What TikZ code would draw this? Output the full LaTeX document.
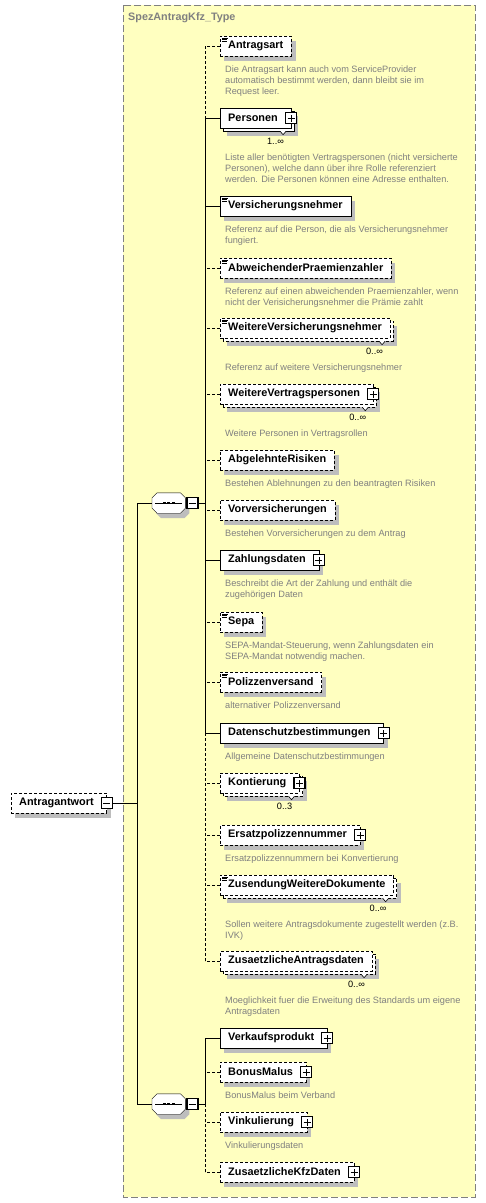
\documentclass[tikz,border=0pt]{standalone}
\usepackage{fontspec}
\setmainfont{Liberation Sans}
\usetikzlibrary{positioning}
\definecolor{typefill}{HTML}{FFFFC0}
\definecolor{typedraw}{HTML}{808080}
\definecolor{doctext}{HTML}{808080}
\definecolor{shadegray}{HTML}{BDBDBD}
\pgfdeclarelayer{bg}\pgfdeclarelayer{shade}\pgfdeclarelayer{back}
\pgfsetlayers{bg,shade,back,main}
\tikzset{
  elem/.style={draw,fill=white,anchor=west,minimum height=20pt,inner xsep=8pt,inner ysep=0pt,font=\fontsize{10.9}{13}\selectfont\bfseries},
  opt/.style={dash pattern=on 3pt off 2pt},
  kids/.style={execute at end node={\hspace*{5pt}}},
  doc/.style={inner sep=0pt,align=left,text=doctext,font=\fontsize{9.2}{11}\selectfont},
  mult/.style={inner sep=0pt,font=\fontsize{9.2}{11}\selectfont},
  pm/.style={draw,fill=white,minimum size=11pt,inner sep=0pt,line width=1.1pt},
  plusbox/.style={pm,path picture={\draw[black,line width=0.7pt] ([xshift=-3.5pt]path picture bounding box.center) -- ++(7pt,0pt) ([yshift=-3.5pt]path picture bounding box.center) -- ++(0pt,7pt);}},
  minusbox/.style={pm,path picture={\draw[black,line width=0.7pt] ([xshift=-3.5pt]path picture bounding box.center) -- ++(7pt,0pt);}},
  seqbox/.style={minimum width=33pt,minimum height=20pt,inner sep=0pt,anchor=west}
}
\newcommand\octpath[3]{([shift={(#2,#3)},xshift=5pt]#1.north west) -- ([shift={(#2,#3)},xshift=-5pt]#1.north east) -- ([shift={(#2,#3)},yshift=-5pt]#1.north east) -- ([shift={(#2,#3)},yshift=5pt]#1.south east) -- ([shift={(#2,#3)},xshift=-5pt]#1.south east) -- ([shift={(#2,#3)},xshift=5pt]#1.south west) -- ([shift={(#2,#3)},yshift=5pt]#1.south west) -- ([shift={(#2,#3)},yshift=-5pt]#1.north west) -- cycle}
\begin{document}
\begin{tikzpicture}[x=1pt,y=-1pt,line width=0.9pt]
\useasboundingbox (0,0) rectangle (486,1203);
\begin{pgfonlayer}{bg}
\draw[typedraw,fill=typefill,dash pattern=on 7pt off 3pt] (123,5) rectangle (475,1197);
\end{pgfonlayer}
\node[anchor=west,inner sep=0pt,text=typedraw,font=\fontsize{10.8}{13}\selectfont\bfseries] (typename) at (128,18) {SpezAntragKfz\_Type};

\node[elem,opt,kids] (root) at (11,803) {Antragantwort};
\node[minusbox] (rootm) at (root.east) {};
\node[seqbox] (seqa) at (152,503) {};
\node[minusbox,right=1pt of seqa] (seqam) {};
\node[seqbox] (seqb) at (152,1104) {};
\node[minusbox,right=1pt of seqb] (seqbm) {};

\node[elem,opt] (antragsart) at (220,46) {Antragsart};
\node[elem,kids] (personen) at (220,118) {Personen};
\node[elem] (vnehmer) at (220,206) {Versicherungsnehmer};
\node[elem,opt] (abwpz) at (220,268) {AbweichenderPraemienzahler};
\node[elem,opt] (weitvn) at (220,328) {WeitereVersicherungsnehmer};
\node[elem,opt,kids] (weitvp) at (220,394) {WeitereVertragspersonen};
\node[elem,opt] (ablrisk) at (220,460) {AbgelehnteRisiken};
\node[elem,opt] (vorvers) at (220,510) {Vorversicherungen};
\node[elem,kids] (zahlung) at (220,560) {Zahlungsdaten};
\node[elem,opt] (sepa) at (220,622) {Sepa};
\node[elem,opt] (polversand) at (220,682) {Polizzenversand};
\node[elem,kids] (datenschutz) at (220,733) {Datenschutzbestimmungen};
\node[elem,opt,kids] (kontierung) at (220,783) {Kontierung};
\node[elem,opt,kids] (ersatzpn) at (220,835) {Ersatzpolizzennummer};
\node[elem,opt] (zusdok) at (220,885) {ZusendungWeitereDokumente};
\node[elem,opt] (zusantrag) at (220,961) {ZusaetzlicheAntragsdaten};
\node[elem,kids] (vkprodukt) at (220,1038) {Verkaufsprodukt};
\node[elem,opt,kids] (bonusmalus) at (220,1072) {BonusMalus};
\node[elem,opt,kids] (vinkul) at (220,1122) {Vinkulierung};
\node[elem,opt,kids] (kfzdaten) at (220,1172) {ZusaetzlicheKfzDaten};

\foreach \s in {seqa,seqb} {
  \draw[fill=white] \octpath{\s}{0pt}{0pt};
  \draw[line width=0.8pt] ([xshift=3pt]\s.west) -- ([xshift=-3pt]\s.east);
  \foreach \d in {-4.5,0,4.5} \fill ([xshift=\d pt]\s.center) +(-1.4pt,-1.4pt) rectangle +(1.4pt,1.4pt);
}
\begin{pgfonlayer}{shade}
\foreach \n in {root,antragsart,vnehmer,abwpz,ablrisk,vorvers,zahlung,sepa,polversand,datenschutz,ersatzpn,vkprodukt,bonusmalus,vinkul,kfzdaten}
  \fill[shadegray] ([shift={(4pt,-5pt)}]\n.south west) rectangle ([shift={(4pt,-5pt)}]\n.north east);
\foreach \n in {personen,weitvn,weitvp,kontierung,zusdok,zusantrag}
  \fill[shadegray] ([shift={(7pt,-8pt)}]\n.south west) rectangle ([shift={(7pt,-8pt)}]\n.north east);
\foreach \s in {seqa,seqb} \fill[shadegray] \octpath{\s}{4pt}{-5pt};
\end{pgfonlayer}
\begin{pgfonlayer}{back}
\foreach \n/\k in {personen/solid,weitvn/opt,weitvp/opt,kontierung/opt,zusdok/opt,zusantrag/opt}
  \draw[\k,fill=white] ([shift={(3pt,-3pt)}]\n.south west) rectangle ([shift={(3pt,-3pt)}]\n.north east);
\end{pgfonlayer}

\foreach \n in {personen,weitvp,zahlung,datenschutz,kontierung,ersatzpn,vkprodukt,bonusmalus,vinkul,kfzdaten} \node[plusbox] at (\n.east) {};
\foreach \n in {antragsart,vnehmer,abwpz,weitvn,sepa,polversand,zusdok} \draw[line width=0.6pt] ([xshift=2pt,yshift=-2pt]\n.north west) -- ++(6pt,0pt) ++(-6pt,-1.7pt) -- ++(5pt,0pt) ++(-5pt,-1.7pt) -- ++(5pt,0pt);
\foreach \n/\m in {personen/1..∞,weitvn/0..∞,weitvp/0..∞,kontierung/0..3,zusdok/0..∞,zusantrag/0..∞} {
  \draw[fill=white,line width=0.6pt] ([xshift=-11pt,yshift=-3pt]\n.south east) -- ++(3pt,-3.5pt) -- ++(3pt,3.5pt);
  \node[mult,below left=10pt and 7pt of \n.south east] (\n-mult) {\m};
}

\node[doc,below right=9.5pt and 5pt of antragsart.south west] (antragsartdoc) {Die Antragsart kann auch vom ServiceProvider\\automatisch bestimmt werden, dann bleibt sie im\\Request leer.};
\node[doc,below right=25.5pt and 5pt of personen.south west] (personendoc) {Liste aller benötigten Vertragspersonen (nicht versicherte\\Personen), welche dann über ihre Rolle referenziert\\werden. Die Personen können eine Adresse enthalten.};
\node[doc,below right=9.5pt and 5pt of vnehmer.south west] (vnehmerdoc) {Referenz auf die Person, die als Versicherungsnehmer\\fungiert.};
\node[doc,below right=9.5pt and 5pt of abwpz.south west] (abwpzdoc) {Referenz auf einen abweichenden Praemienzahler, wenn\\nicht der Verisicherungsnehmer die Prämie zahlt};
\node[doc,below right=25.5pt and 5pt of weitvn.south west] (weitvndoc) {Referenz auf weitere Versicherungsnehmer};
\node[doc,below right=25.5pt and 5pt of weitvp.south west] (weitvpdoc) {Weitere Personen in Vertragsrollen};
\node[doc,below right=9.5pt and 5pt of ablrisk.south west] (ablriskdoc) {Bestehen Ablehnungen zu den beantragten Risiken};
\node[doc,below right=9.5pt and 5pt of vorvers.south west] (vorversdoc) {Bestehen Vorversicherungen zu dem Antrag};
\node[doc,below right=9.5pt and 5pt of zahlung.south west] (zahlungdoc) {Beschreibt die Art der Zahlung und enthält die\\zugehörigen Daten};
\node[doc,below right=9.5pt and 5pt of sepa.south west] (sepadoc) {SEPA-Mandat-Steuerung, wenn Zahlungsdaten ein\\SEPA-Mandat notwendig machen.};
\node[doc,below right=9.5pt and 5pt of polversand.south west] (polversanddoc) {alternativer Polizzenversand};
\node[doc,below right=9.5pt and 5pt of datenschutz.south west] (datenschutzdoc) {Allgemeine Datenschutzbestimmungen};
\node[doc,below right=9.5pt and 5pt of ersatzpn.south west] (ersatzpndoc) {Ersatzpolizzennummern bei Konvertierung};
\node[doc,below right=25.5pt and 5pt of zusdok.south west] (zusdokdoc) {Sollen weitere Antragsdokumente zugestellt werden (z.B.\\IVK)};
\node[doc,below right=25.5pt and 5pt of zusantrag.south west] (zusantragdoc) {Moeglichkeit fuer die Erweitung des Standards um eigene\\Antragsdaten};
\node[doc,below right=9.5pt and 5pt of bonusmalus.south west] (bonusmalusdoc) {BonusMalus beim Verband};
\node[doc,below right=9.5pt and 5pt of vinkul.south west] (vinkuldoc) {Vinkulierungsdaten};

\coordinate (busroot) at (137,803);
\coordinate (busa) at (205,503);
\coordinate (busb) at (205,1104);
\draw (rootm.east) -- (busroot) |- (seqa.west);
\draw (busroot) |- (seqb.west);
\draw (seqam.east) -- (busa);
\draw (seqbm.east) -- (busb);
\draw[opt] (antragsart.west -| busa) -- (personen.west -| busa);
\draw (personen.west -| busa) -- (datenschutz.west -| busa);
\draw[opt] (datenschutz.west -| busa) -- (zusantrag.west -| busa);
\draw (vkprodukt.west -| busb) -- (busb);
\draw[opt] (busb) -- (kfzdaten.west -| busb);
\foreach \n in {personen,vnehmer,zahlung,datenschutz,vkprodukt} \draw (\n.west) -- (\n.west -| busa);
\foreach \n in {antragsart,abwpz,weitvn,weitvp,ablrisk,vorvers,sepa,polversand,kontierung,ersatzpn,zusdok,zusantrag,bonusmalus,vinkul,kfzdaten} \draw[opt] (\n.west) -- (\n.west -| busa);
\end{tikzpicture}
\end{document}
